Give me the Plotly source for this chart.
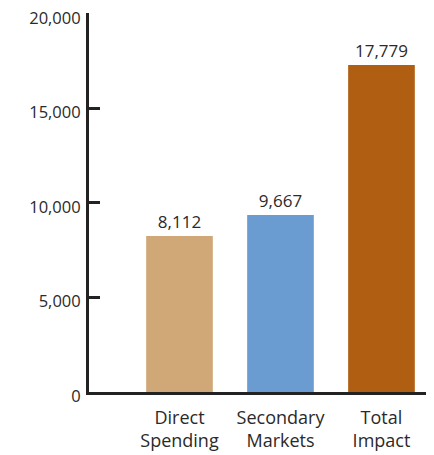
import plotly.graph_objects as go

categories = ["Direct<br>Spending", "Secondary<br>Markets", "Total<br>Impact"]
bar_values = [8250, 9370, 17300]
value_labels = ["8,112", "9,667", "17,779"]
bar_colors = ["#D0A878", "#6A9CD2", "#B05E12"]
y_tick_values = [0, 5000, 10000, 15000, 20000]
y_tick_labels = ["0", "5,000", "10,000", "15,000", "20,000"]

text_color = "#2a2a2a"
font_family = "Open Sans, Noto Sans, sans-serif"

fig = go.Figure(
    go.Bar(
        x=list(range(len(categories))),
        y=bar_values,
        text=value_labels,
        textposition="outside",
        textfont=dict(size=17, color=text_color, family=font_family),
        marker=dict(color=bar_colors, line=dict(width=0)),
        width=0.66,
        cliponaxis=False,
        hoverinfo="skip",
    )
)

# page body has an 8px default margin; figure sized to fit the window
fig.update_layout(
    width=426,
    height=447,
    margin=dict(l=81, r=0, t=5, b=63),
    paper_bgcolor="white",
    plot_bgcolor="white",
    showlegend=False,
    font=dict(family=font_family, color=text_color),
    xaxis=dict(
        range=[-0.896, 2.52],
        tickmode="array",
        tickvals=list(range(len(categories))),
        ticktext=categories,
        showline=True,
        linecolor="#222222",
        linewidth=3,
        ticks="",
        showgrid=False,
        zeroline=False,
        tickfont=dict(size=18, color=text_color),
        ticklabelstandoff=7,
        automargin=False,
        fixedrange=True,
    ),
    yaxis=dict(
        range=[0, 20050],
        tickmode="array",
        tickvals=y_tick_values,
        ticktext=y_tick_labels,
        showline=True,
        linecolor="#222222",
        linewidth=3,
        ticks="inside",
        ticklen=11,
        tickwidth=3,
        tickcolor="#222222",
        showgrid=False,
        zeroline=False,
        tickfont=dict(size=16.5, color=text_color),
        ticklabelstandoff=2,
        ticklabelshift=4,
        ticklabeloverflow="allow",
        automargin=False,
        fixedrange=True,
    ),
)

fig.write_html("out.html")
